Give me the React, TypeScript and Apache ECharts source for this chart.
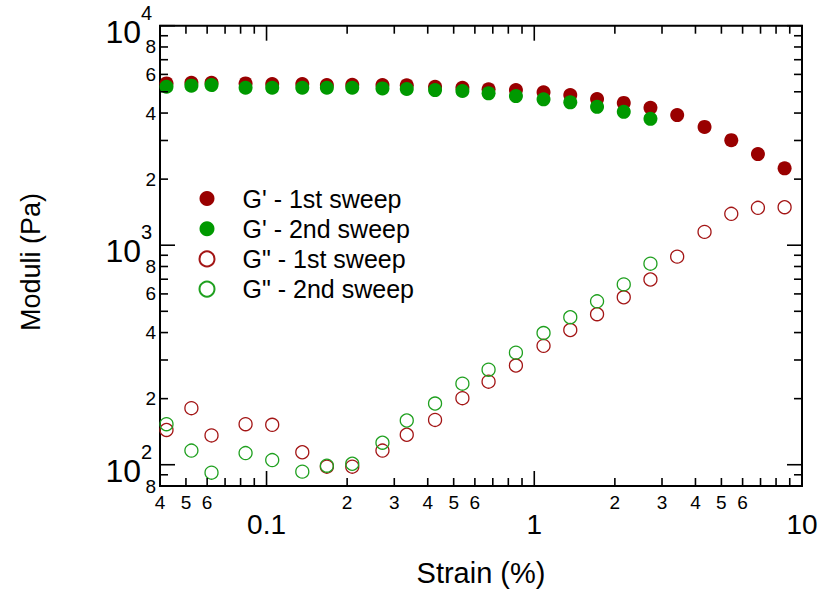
import React, { useEffect, useRef } from "react";
import * as echarts from "echarts";

// ---- data ----
const strain = [0.0423, 0.0524, 0.0623, 0.0835, 0.105, 0.136, 0.168, 0.209, 0.271, 0.334, 0.426, 0.539, 0.675, 0.854, 1.083, 1.363, 1.716, 2.159, 2.716, 3.418, 4.325, 5.443, 6.845, 8.61];
const gPrime1 = [5460, 5500, 5500, 5460, 5420, 5420, 5365, 5380, 5365, 5350, 5270, 5215, 5130, 5090, 4970, 4830, 4630, 4450, 4230, 3915, 3460, 3010, 2600, 2240];
const gPrime2 = [5270, 5330, 5365, 5215, 5215, 5215, 5215, 5215, 5180, 5145, 5090, 5040, 4920, 4780, 4620, 4475, 4270, 4050, 3765];
const gDouble1 = [144, 181, 136, 153, 152, 114, 98, 98, 116, 137, 160, 201, 239, 283, 348, 411, 485, 579, 698, 887, 1150, 1390, 1480, 1490];
const gDouble2 = [153, 116, 92, 113, 105, 93, 99, 101, 126, 159, 190, 234, 271, 324, 398, 470, 555, 663, 824];

const seriesNames = ["G' - 1st sweep", "G' - 2nd sweep", 'G" - 1st sweep', 'G" - 2nd sweep'];

const X_MIN = 0.04;
const X_MAX = 10;
const Y_MIN = 80;
const Y_MAX = 10000;

const xMajorTicks = [0.1, 1, 10];
const xMajorLabels = ["0.1", "1", "10"];
const xMinorTicks = [0.04, 0.05, 0.06, 0.07, 0.08, 0.09, 0.2, 0.3, 0.4, 0.5, 0.6, 0.7, 0.8, 0.9, 2, 3, 4, 5, 6, 7, 8, 9];
const xMinorLabels = ["4", "5", "6", "", "", "", "2", "3", "4", "5", "6", "", "", "", "2", "3", "4", "5", "6", "", "", ""];

const yMajorTicks = [100, 1000, 10000];
const yMajorBase = ["10", "10", "10"];
const yMajorExp = ["2", "3", "4"];
const yMinorTicks = [80, 90, 200, 300, 400, 500, 600, 700, 800, 900, 2000, 3000, 4000, 5000, 6000, 7000, 8000, 9000];
const yMinorLabels = ["8", "", "2", "", "4", "", "6", "", "8", "", "2", "", "4", "", "6", "", "8", ""];

const FONT = "'Liberation Sans', Arial, Helvetica, sans-serif";
const RED = "#990000";
const GREEN = "#009900";
const RED_LINE = "#a31515";
const GREEN_LINE = "#1fa01f";

const MAJOR_LEN = 15;
const MINOR_LEN = 8;
const TICK_W = 1.6;

export default function App() {
  const ref = useRef<HTMLDivElement>(null);

  useEffect(() => {
    if (!ref.current) return;
    const chart = echarts.init(ref.current, null, { renderer: "svg" });

    const xTickData = [
      ...xMajorTicks.map((v, i) => [v, Y_MIN, 1, i]),
      ...xMinorTicks.map((v, i) => [v, Y_MIN, 0, i]),
    ];
    const yTickData = [
      ...yMajorTicks.map((v, i) => [X_MIN, v, 1, i]),
      ...yMinorTicks.map((v, i) => [X_MIN, v, 0, i]),
    ];

    const xTickRender = (params: any, api: any) => {
      const v = api.value(0);
      const major = api.value(2) === 1;
      const idx = api.value(3);
      const b = api.coord([v, Y_MIN]);
      const t = api.coord([v, Y_MAX]);
      const len = major ? MAJOR_LEN : MINOR_LEN;
      const children: any[] = [
        { type: "line", shape: { x1: b[0], y1: b[1], x2: b[0], y2: b[1] - len }, style: { stroke: "#000", lineWidth: TICK_W } },
        { type: "line", shape: { x1: t[0], y1: t[1], x2: t[0], y2: t[1] + len }, style: { stroke: "#000", lineWidth: TICK_W } },
      ];
      const label = major ? xMajorLabels[idx] : xMinorLabels[idx];
      if (label) {
        children.push({
          type: "text",
          style: {
            text: label,
            x: b[0],
            y: b[1] + (major ? 38 : 16),
            align: "center",
            verticalAlign: "middle",
            fontSize: major ? 28 : 19,
            fontFamily: FONT,
            fill: "#000",
          },
        });
      }
      return { type: "group", children };
    };

    const yTickRender = (params: any, api: any) => {
      const v = api.value(1);
      const major = api.value(2) === 1;
      const idx = api.value(3);
      const l = api.coord([X_MIN, v]);
      const r = api.coord([X_MAX, v]);
      const len = major ? MAJOR_LEN : MINOR_LEN;
      const children: any[] = [
        { type: "line", shape: { x1: l[0], y1: l[1], x2: l[0] + len, y2: l[1] }, style: { stroke: "#000", lineWidth: TICK_W } },
        { type: "line", shape: { x1: r[0], y1: r[1], x2: r[0] - len, y2: r[1] }, style: { stroke: "#000", lineWidth: TICK_W } },
      ];
      if (major) {
        children.push({
          type: "text",
          style: { text: yMajorBase[idx], x: l[0] - 19, y: l[1] + 6, align: "right", verticalAlign: "middle", fontSize: 32, fontFamily: FONT, fill: "#000" },
        });
        children.push({
          type: "text",
          style: { text: yMajorExp[idx], x: l[0] - 19, y: l[1] - 13, align: "left", verticalAlign: "middle", fontSize: 20, fontFamily: FONT, fill: "#000" },
        });
      } else if (yMinorLabels[idx]) {
        children.push({
          type: "text",
          style: { text: yMinorLabels[idx], x: l[0] - 4, y: l[1], align: "right", verticalAlign: "middle", fontSize: 19, fontFamily: FONT, fill: "#000" },
        });
      }
      return { type: "group", children };
    };

    const scatterBase = { type: "scatter", symbol: "circle", silent: true, emphasis: { disabled: true } };

    chart.setOption({
      animation: false,
      backgroundColor: "#fff",
      grid: { left: 160, right: 18, top: 25.7, bottom: 104, show: true, borderColor: "#000", borderWidth: 2, backgroundColor: "transparent" },
      xAxis: {
        type: "log",
        min: X_MIN,
        max: X_MAX,
        logBase: 10,
        axisLine: { show: false },
        axisTick: { show: false },
        axisLabel: { show: false },
        splitLine: { show: false },
      },
      yAxis: {
        type: "log",
        min: Y_MIN,
        max: Y_MAX,
        logBase: 10,
        axisLine: { show: false },
        axisTick: { show: false },
        axisLabel: { show: false },
        splitLine: { show: false },
      },
      legend: {
        data: seriesNames,
        orient: "vertical",
        left: 198.5,
        top: 186,
        padding: 0,
        itemWidth: 15,
        itemHeight: 15,
        itemGap: 5.2,
        icon: "circle",
        selectedMode: false,
        textStyle: { fontSize: 25, lineHeight: 24, fontFamily: FONT, color: "#000", padding: [0, 0, 0, 23] },
      },
      graphic: [
        { type: "text", x: 481, y: 573, style: { text: "Strain (%)", x: 0, y: 0, align: "center", verticalAlign: "middle", fontSize: 29, fontFamily: FONT, fill: "#000" } },
        { type: "text", x: 31, y: 262, rotation: Math.PI / 2, style: { text: "Moduli (Pa)", x: 0, y: 0, align: "center", verticalAlign: "middle", fontSize: 27, fontFamily: FONT, fill: "#000" } },
      ],
      series: [
        {
          ...scatterBase,
          name: seriesNames[0],
          symbolSize: 14,
          itemStyle: { color: RED, opacity: 1 },
          data: gPrime1.map((v, i) => [strain[i], v]),
          z: 3,
        },
        {
          ...scatterBase,
          name: seriesNames[1],
          symbolSize: 14,
          itemStyle: { color: GREEN, opacity: 1 },
          data: gPrime2.map((v, i) => [strain[i], v]),
          z: 4,
        },
        {
          ...scatterBase,
          name: seriesNames[2],
          symbolSize: 13,
          itemStyle: { color: "rgba(255,255,255,0)", borderColor: RED_LINE, borderWidth: 1.3, opacity: 1 },
          data: gDouble1.map((v, i) => [strain[i], v]),
          z: 5,
        },
        {
          ...scatterBase,
          name: seriesNames[3],
          symbolSize: 13,
          itemStyle: { color: "rgba(255,255,255,0)", borderColor: GREEN_LINE, borderWidth: 1.3, opacity: 1 },
          data: gDouble2.map((v, i) => [strain[i], v]),
          z: 6,
        },
        {
          type: "custom",
          name: "xTicks",
          silent: true,
          clip: false,
          encode: { x: 0, y: 1 },
          data: xTickData,
          renderItem: xTickRender,
          z: 10,
        },
        {
          type: "custom",
          name: "yTicks",
          silent: true,
          clip: false,
          encode: { x: 0, y: 1 },
          data: yTickData,
          renderItem: yTickRender,
          z: 10,
        },
      ],
    });

    return () => chart.dispose();
  }, []);

  return <div ref={ref} style={{ position: "fixed", left: 0, top: 0, width: 820, height: 590 }} />;
}
